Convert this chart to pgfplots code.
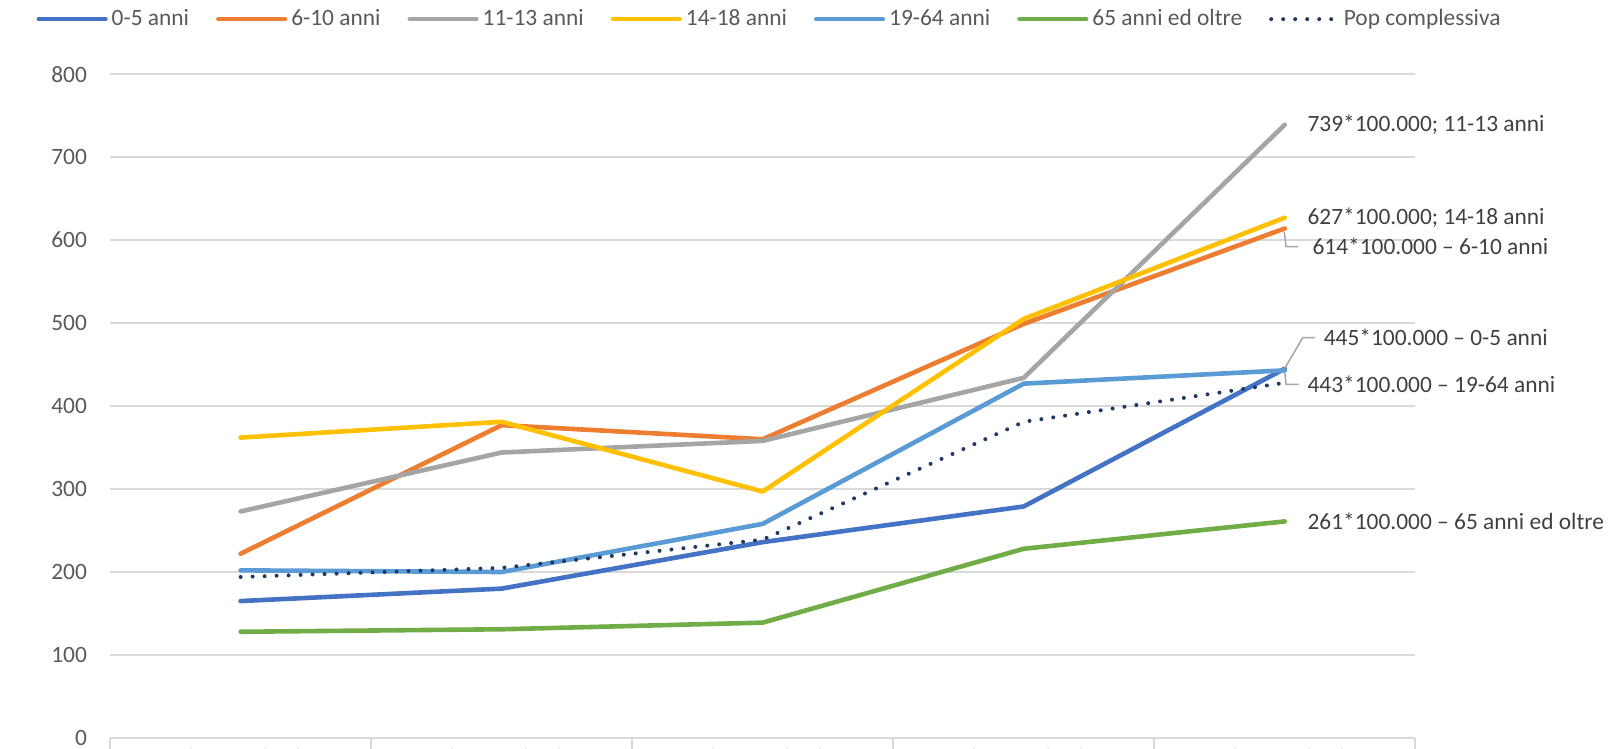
\documentclass[border=0pt]{standalone}
\usepackage{pgfplots}
\pgfplotsset{compat=1.18}
\usepackage{fontspec}
\setmainfont{Carlito}
\definecolor{cA}{HTML}{4472C4}
\definecolor{cB}{HTML}{ED7D31}
\definecolor{cC}{HTML}{A5A5A5}
\definecolor{cD}{HTML}{FFC000}
\definecolor{cE}{HTML}{5B9BD5}
\definecolor{cF}{HTML}{70AD47}
\definecolor{cG}{HTML}{203864}
\definecolor{gridc}{HTML}{D9D9D9}
\definecolor{tickc}{HTML}{595959}
\definecolor{labc}{HTML}{404040}
\definecolor{leadc}{HTML}{A6A6A6}
\begin{document}
\begin{tikzpicture}
\useasboundingbox (-55.05pt,-5.5pt) rectangle (751.95pt,369.0pt);
\clip (-55.05pt,-5.5pt) rectangle (751.95pt,369.0pt);
\begin{axis}[
  at={(0pt,0pt)}, anchor=south west,
  scale only axis, width=652.6pt, height=331.95pt,
  xmin=-0.5, xmax=4.5, ymin=0, ymax=800,
  clip=false,
  axis line style={draw=none},
  ytick={0,100,...,800},
  ymajorgrids, grid style={draw=gridc, line width=1pt},
  xtick={0,1,2,3,4},
  xticklabels={13/12 - 19/12/21, 20/12 - 26/12/21, 27/12 - 02/01/22, 03/01 - 09/01/22, 10/01 - 16/01/22},
  major tick length=0pt,
  xtick pos=bottom, ytick pos=left,
  extra x ticks={-0.5,0.5,1.5,2.5,3.5,4.5},
  extra x tick labels={},
  extra x tick style={major tick length=14pt, tick align=outside, major tick style={draw=gridc, line width=1pt}},
  /pgf/number format/assume math mode=true,
  ticklabel style={font=\fontsize{11.7}{14}\selectfont, text=tickc},
  yticklabel style={anchor=east, inner sep=0pt, xshift=-11.4pt},
  xticklabel style={anchor=north, inner sep=0pt, yshift=-5.6pt},
  legend columns=7,
  legend style={at={(0.506,1.0828)}, anchor=center, draw=none, fill=none,
    font=\fontsize{11.7}{14}\selectfont, text=tickc,
    /tikz/every even column/.append style={column sep=11.5pt}},
  legend image code/.code={\draw[#1] (0pt,0pt) -- (33.3pt,0pt);},
  every axis plot/.append style={line width=2.3pt, line cap=round, line join=round},
]
\draw[gridc, line width=1.35pt] (axis cs:-0.5,0) -- (axis cs:4.5,0);
\addplot[cA] coordinates {(0,165) (1,180) (2,236) (3,279) (4,445)};
\addlegendentry{0-5 anni}
\addplot[cB] coordinates {(0,222) (1,377) (2,360) (3,499) (4,614)};
\addlegendentry{6-10 anni}
\addplot[cC] coordinates {(0,273) (1,344) (2,358) (3,434) (4,739)};
\addlegendentry{11-13 anni}
\addplot[cD] coordinates {(0,362) (1,381) (2,297) (3,505) (4,627)};
\addlegendentry{14-18 anni}
\addplot[cE] coordinates {(0,202) (1,200) (2,258) (3,427) (4,443)};
\addlegendentry{19-64 anni}
\addplot[cF] coordinates {(0,128) (1,131) (2,139) (3,228) (4,261)};
\addlegendentry{65 anni ed oltre}
\addplot[cG, line width=2pt, dash pattern=on 0pt off 6pt] coordinates {(0,194) (1,205) (2,239) (3,381) (4,428)};
\addlegendentry{Pop complessiva}
% leader lines
\draw[leadc, line width=0.75pt] (axis cs:3.998,610) -- (axis cs:4.005,592) -- (axis cs:4.052,592);
\draw[leadc, line width=0.75pt] (axis cs:4.0,445.5) -- (axis cs:4.069,482.4) -- (axis cs:4.116,482.4);
\draw[leadc, line width=0.75pt] (axis cs:4.0,441) -- (axis cs:4.005,426.2) -- (axis cs:4.054,426.2);
% data labels
\begin{scope}[every node/.style={anchor=west, inner sep=0pt, text=labc, font=\fontsize{11.7}{14}\selectfont}]
\node at (axis cs:4.086,738.7) {739*100.000; 11-13 anni};
\node at (axis cs:4.086,627.0) {627*100.000; 14-18 anni};
\node at (axis cs:4.105,592.0) {614*100.000 – 6-10 anni};
\node at (axis cs:4.148,482.4) {445*100.000 – 0-5 anni};
\node at (axis cs:4.086,426.2) {443*100.000 – 19-64 anni};
\node at (axis cs:4.086,261.5) {261*100.000 – 65 anni ed oltre};
\end{scope}
\end{axis}
\end{tikzpicture}
\end{document}
